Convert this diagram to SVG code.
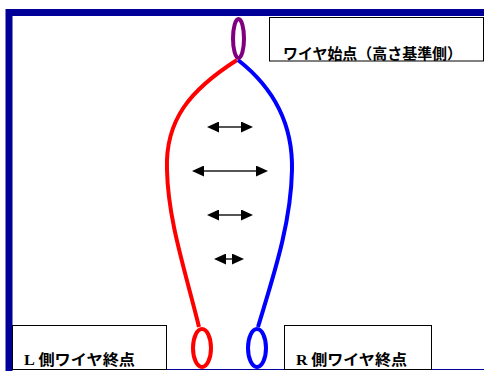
<svg xmlns="http://www.w3.org/2000/svg" width="484" height="371" viewBox="0 0 484 371">
<defs>
<style>
.box{fill:#fff;stroke:#000;stroke-width:1}
.lbl{font-family:"Noto Sans CJK JP","Noto Sans",sans-serif;font-weight:bold;font-size:15px;fill:#000}
.lat{font-family:"Liberation Serif",serif;font-weight:bold}
.wire{fill:none;stroke-width:4}
.dim{stroke:#555;stroke-width:2;fill:none}
</style>
<marker id="ah" viewBox="0 0 12 11" refX="6" refY="5.5" markerWidth="12" markerHeight="11" markerUnits="userSpaceOnUse" orient="auto-start-reverse">
<path d="M0,0 L12,5.5 L0,11 Z" fill="#000"/>
</marker>
</defs>
<rect width="484" height="371" fill="#fff"/>
<g id="frame">
<path d="M9,371 V12.5 H484" fill="none" stroke="#000099" stroke-width="7"/>
<line x1="12" y1="369.5" x2="484" y2="369.5" stroke="#000099" stroke-width="1.2"/>
</g>
<g id="start-label">
<rect class="box" x="269.5" y="17.5" width="214" height="43.5"/>
<text class="lbl" x="283" y="59" textLength="179" lengthAdjust="spacingAndGlyphs">ワイヤ始点（高さ基準側）</text>
</g>
<g id="l-label">
<rect class="box" x="12.5" y="325.5" width="154" height="44"/>
<text class="lbl" x="24" y="365" textLength="111" lengthAdjust="spacingAndGlyphs"><tspan class="lat">L</tspan> 側ワイヤ終点</text>
</g>
<g id="r-label">
<rect class="box" x="284.5" y="325.5" width="147" height="44"/>
<text class="lbl" x="296" y="365" textLength="111" lengthAdjust="spacingAndGlyphs"><tspan class="lat">R</tspan> 側ワイヤ終点</text>
</g>
<g id="connectors">
<path class="wire" stroke="#ff0000" d="M237,60 C190,90 165,120 167,170 C168,220 185,270 199,327"/>
<path class="wire" stroke="#0000ff" d="M238,60 C270,85 293,120 292,170 C291,225 272,280 258,327"/>
<line class="dim" x1="213" y1="127" x2="247" y2="127" marker-start="url(#ah)" marker-end="url(#ah)"/>
<line class="dim" x1="198" y1="171" x2="262" y2="171" marker-start="url(#ah)" marker-end="url(#ah)"/>
<line class="dim" x1="213" y1="215" x2="247" y2="215" marker-start="url(#ah)" marker-end="url(#ah)"/>
<line class="dim" x1="220" y1="259" x2="238" y2="259" marker-start="url(#ah)" marker-end="url(#ah)"/>
</g>
<g id="start-ring">
<ellipse cx="238.5" cy="38.5" rx="5.5" ry="19.5" fill="none" stroke="#800080" stroke-width="4"/>
</g>
<g id="l-ring">
<ellipse cx="202" cy="348" rx="9" ry="19" fill="none" stroke="#ff0000" stroke-width="4"/>
</g>
<g id="r-ring">
<ellipse cx="257" cy="348" rx="9" ry="19" fill="none" stroke="#0000ff" stroke-width="4"/>
</g>
</svg>
